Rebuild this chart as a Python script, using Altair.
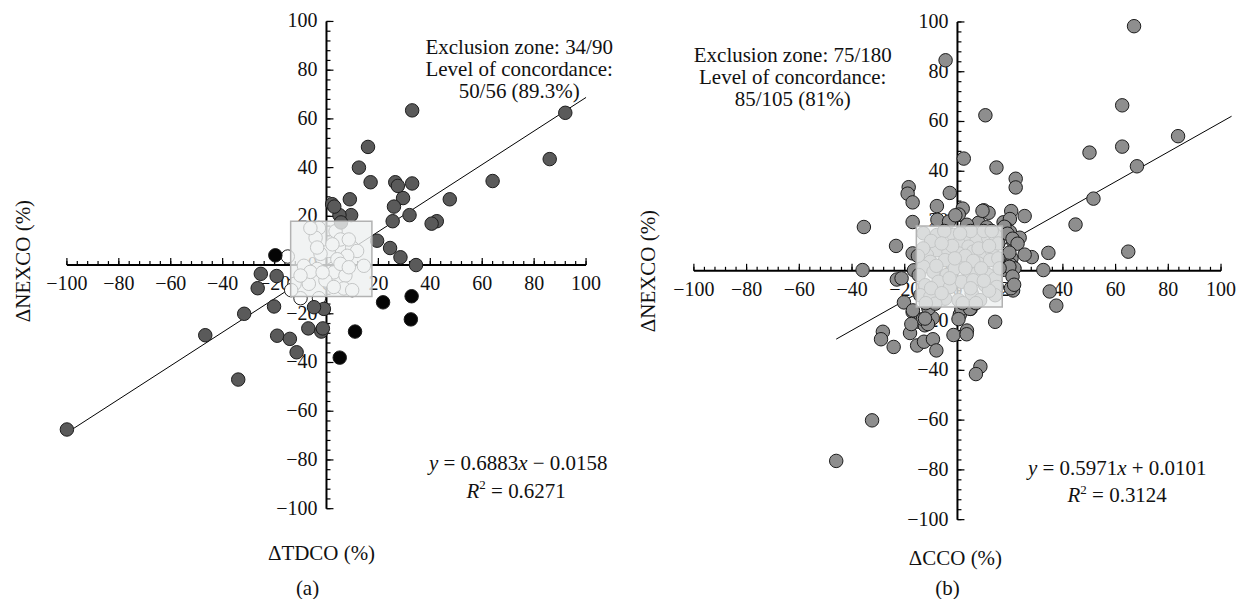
import altair as alt
import pandas as pd

FONT = "Liberation Serif"

AXIS_RANGE = [-100, 100]
MAJOR_TICKS = list(range(-100, 101, 20))
MINOR_TICKS = list(range(-100, 101, 4))

# ---------------- Panel (a): dTDCO vs dNEXCO ----------------
A_CONC_X = [92, 86, 64, 47.5, 42.5, 40.5, 33, 33, 29.5, 26.5, 27.5, 26, 25.5, 32, 16, 17, 12.5,
            9, 9.5, 5, 2.2, 3, 5.6, 19.5, 24.5, 28.5, 34.5,
            -100, -25.3, -26.5, -19.2, -20.2, -31.7, -46.7, -19, -14.1, -11.5, -7, -2, -1.4, -1, -4.8, -34]
A_CONC_Y = [62.5, 43.5, 34.5, 27, 18, 17, 63.5, 33.5, 27.5, 34, 32.5, 24, 18, 20.5, 48.5, 34, 40,
            27, 20.5, 20.5, 25, 24, 17.5, 10, 7, 3.2, 0,
            -67.5, -3.6, -9.5, -4.5, -17, -20, -28.8, -29, -30.3, -35.8, -26, -27.3, -26, -18, -17.3, -47]
A_DISC_X = [-19.7, 21.8, 11, 5.1, 32.8, 32.5]
A_DISC_Y = [4, -15.3, -27.3, -38, -12.8, -22.3]
A_EXCL_X = [-2.9, -4.2, 3.5, 5.4, 0.9, 9.9, 11.8, 8, 4.2, 14.4, -8.7, -3.6, 2.8, 7.3, -6.8, -0.4, 6.7,
            9.9, -10, -2.9, -14.9, -12.3, -2.3, -6.2, 5.4, 8.6, 2.3, 8.6, -10, -1.5, -13.6, 2.8, -3.6, -6.2]
A_EXCL_Y = [15.2, 11.2, 13.9, 10.5, 5.8, 7.2, 5.8, 3.8, 2.4, -0.3, -0.3, -1.6, -3, -4.3, -7.7, -6.3, -9.6,
            -10.3, -13.6, -13.6, 3.5, -7.7, 4.6, -2.8, 0.5, -0.9, 8.5, 10.5, -4.3, -3, -10.3, -9, 7.2, 15.2]
A_SLOPE, A_INTERCEPT = 0.6883, -0.0158
A_FIT_X = [-100, 100]
A_BOX_X = [-13.8, 17.5]
A_BOX_Y = [-12.9, 18]

# ---------------- Panel (b): dCCO vs dNEXCO ----------------
B_OUT_X = [67, -4.5, 62.5, 10.6, 83.7, 62.5, 50.1, 2.4, 14.8, 68.1, 22.1, 22.1, 51.6, -18.5, -18.9, -17,
           -2.9, -7.8, 2, 0.5, 10, 11.8, 20.4, 25.5, 44.8, -35.5, -17, -7.6, -3.2, 8, 17.5, 19.9, 18.6,
           19.9, 23.6, 21.2, -23.3, -17, 28.2, 34.5, 64.8, 20.5, 20.1, 21.6, -36, 32.6, -16.5, -23, -21.2,
           35, 37.5, 21.1, -20.3, -17, -14.5, -12.4, -10.8, -9.4, 14.3, 0.9, 1.5, 5, -28.3, -29, -24.2,
           -18, -15.3, -12.7, -9.3, -8, -1.5, 3.6, 3.5, 8.7, 7, -32.4, -46,
           -0.8, 9.5, 3.6, 11.1, 17.8, 19, 20.9, 22.8, 19.7, 25.5, 17.8, 19.7, 20.9, 20.3, 21.5, 0.4,
           4.8, -16.9, -13.1, -11.2, -11, -12.3, -17.5]
B_OUT_Y = [98.3, 84.6, 66.5, 62.5, 54.1, 49.9, 47.5, 45.1, 41.5, 42, 37, 33.5, 29, 33.6, 31, 27.5,
           31.3, 26, 25, 22.6, 24.3, 23.3, 24, 22, 18.6, 17.6, 19.6, 20.5, 19.8, 19.3, 19.5, 20.8, 17,
           15.7, 13.3, 11.7, 10, 7, 5.5, 7.2, 7.7, 5, 2.5, 1, 0.3, 0.3, 0.2, -3.5, -3,
           -8.3, -14, -7.9, -12.7, -16.6, -20.5, -21.9, -20.3, -19, -20.5, -17.6, -15.3, -15.3, -24.5, -27.5, -30.6,
           -25, -30, -28.5, -27.5, -32, -25.8, -24, -25.5, -38.5, -41.5, -60.1, -76.4,
           22.3, 24.1, 18.5, 17.5, 17.7, 14.9, 12.9, 10.9, 7.3, 6.5, 0.4, 1.6, -2.3, -7, -5.6, -19.4,
           -15.3, -15.9, -19.4, -21.4, -15.2, -19.2, -21.4]
B_IN_X = [-12.9, -7.8, -1.5, 2.9, 7.3, 11.7, 14.3, 0.4, 4.2, -7.8, -3.4, -11.6, 0.4, 6.0, 9.2, 13, 15.5,
          -4.7, -10.3, -12.9, 1.6, 7.9, 12.4, 15.5, -14.7, -9.1, -4.1, 4.2, 7.3, 11.7, 14.3, -12.2, -7.2,
          -2.8, 1.6, 6, 10.5, 14.9, -14.1, -10.3, -4.7, 0.4, 5.4, 8.6, 14.3, -8.4,
          -10, -5, 5, 10, -2, 3, 8, 12, -6, 1, 6, -8, -1, 3, 9, -3, 5, -10, 12, -6, 2, 7, -13, 16, -15,
          -1, 10, -12, 13]
B_IN_Y = [15.1, 14.4, 14.4, 13.7, 12.4, 13.1, 14.4, 11.0, 9.7, 8.3, 7.7, 6.3, 7.0, 7.7, 6.3, 8.3, 11,
          4.3, 3.6, 1.6, 3.6, 3.0, 4.3, 5, -1.7, -0.4, -1.7, -0.4, -1.1, -1.7, -3.1, -5.8, -4.4,
          -6.5, -4.4, -3.8, -5.8, -6.5, -9.8, -10.5, -11.2, -11.8, -9.1, -11.8, -9.8, -13.2,
          12, 16, 16, 16, 10, 6, 9, 10, 11, 15, 4, 2, 1, 1, 1, -3, -7, -7, -8, -9, -13, -13, 9, 1, 6,
          5, -4, -13, 16]
B_SLOPE, B_INTERCEPT = 0.5971, 0.0101
B_FIT_X = [-46, 104]
B_BOX_X = [-15.6, 17]
B_BOX_Y = [-14.5, 18]

# Times / Liberation Serif advance widths (em) for equation layout
W_REG = {" ": 0.25, "=": 0.564, "+": 0.564, "\u2212": 0.564, ".": 0.25}
W_ITA = {"y": 0.444, "x": 0.444, "R": 0.611}


def seg_width(t, style, size):
    if style == "i":
        return sum(W_ITA.get(c, 0.5) for c in t) * size
    if style == "sup":
        return 0.5 * len(t) * size * 0.62
    return sum(W_REG.get(c, 0.5) for c in t) * size


def lab(v):
    return str(v).replace("-", "\u2212")


def panel(W, H, y_dom, point_sets, slope, intercept, fit_x, box_x, box_y,
          annot, annot_pos, eq_lines, xtitle, xtitle_pos, ytitle, ytitle_pos,
          caption, caption_pos):
    xs = alt.Scale(domain=AXIS_RANGE, nice=False, zero=False)
    ys = alt.Scale(domain=y_dom, nice=False, zero=False)

    def X(f):
        return alt.X(f, type="quantitative", scale=xs, axis=None)

    def Y(f):
        return alt.Y(f, type="quantitative", scale=ys, axis=None)

    one = pd.DataFrame({"lo": [AXIS_RANGE[0]], "hi": [AXIS_RANGE[1]], "z": [0]})
    layers = []
    # axis lines through the origin
    layers.append(alt.Chart(one).mark_rule(color="black", strokeWidth=2).encode(
        x=X("lo"), x2="hi", y=Y("z")))
    layers.append(alt.Chart(one).mark_rule(color="black", strokeWidth=2).encode(
        y=Y("lo"), y2="hi", x=X("z")))
    # ticks
    minor = pd.DataFrame({"v": MINOR_TICKS, "z": 0})
    major = pd.DataFrame({"v": MAJOR_TICKS, "z": 0, "t": [lab(v) for v in MAJOR_TICKS]})
    for df, L in ((minor, 4), (major, 7)):
        layers.append(alt.Chart(df).mark_tick(orient="vertical", size=L, thickness=1.2,
                                              yOffset=-L / 2, color="black", opacity=1).encode(
            x=X("v"), y=Y("z")))
        layers.append(alt.Chart(df).mark_tick(orient="horizontal", size=L, thickness=1.2,
                                              xOffset=L / 2, color="black", opacity=1).encode(
            y=Y("v"), x=X("z")))
    # tick labels
    layers.append(alt.Chart(major).mark_text(font=FONT, fontSize=20, baseline="middle", dy=19,
                                             color="#111").encode(
        x=X("v"), y=Y("z"), text="t:N"))
    layers.append(alt.Chart(major).mark_text(font=FONT, fontSize=20, baseline="middle", align="right",
                                             dx=-9, color="#111").encode(
        y=Y("v"), x=X("z"), text="t:N"))
    # regression line
    fit = pd.DataFrame({"x": fit_x, "y": [slope * v + intercept for v in fit_x]})
    layers.append(alt.Chart(fit).mark_line(color="black", strokeWidth=1).encode(x=X("x"), y=Y("y")))
    # points
    for px, py, fill in point_sets:
        df = pd.DataFrame({"x": px, "y": py})
        layers.append(alt.Chart(df).mark_circle(size=182, fill=fill, stroke="#1c1c1c", strokeWidth=1,
                                                opacity=1, fillOpacity=1).encode(x=X("x"), y=Y("y")))
    # exclusion zone
    bx = pd.DataFrame({"x1": [box_x[0]], "x2": [box_x[1]], "y1": [box_y[0]], "y2": [box_y[1]]})
    layers.append(alt.Chart(bx).mark_rect(fill="#eef0f0", fillOpacity=0.8, stroke="#b2b2b2",
                                          strokeWidth=1.5).encode(x=X("x1"), x2="x2", y=Y("y1"), y2="y2"))

    # text
    def txt(t, pos, size=21, angle=None, lh=22):
        kw = dict(font=FONT, fontSize=size, align="center", baseline="middle", color="#111",
                  lineHeight=lh)
        if angle is not None:
            kw["angle"] = angle
        return alt.Chart(one).mark_text(**kw).encode(
            x=alt.value(pos[0]), y=alt.value(pos[1]), text=alt.value(t))

    layers.append(txt(annot, annot_pos))
    layers.append(txt(xtitle, xtitle_pos))
    layers.append(txt(ytitle, ytitle_pos, angle=270))
    layers.append(txt(caption, caption_pos))

    # equations: segments with italic variables and superscript
    size = 21
    for segs, cx, base in eq_lines:
        total = sum(seg_width(t, s, size) for t, s in segs)
        x0 = cx - total / 2
        for t, s in segs:
            lead = len(t) - len(t.lstrip(" "))
            xpos = x0 + lead * W_REG[" "] * size
            kw = dict(font=FONT, fontSize=size, align="left", baseline="alphabetic", color="#111")
            if s == "i":
                kw["fontStyle"] = "italic"
            if s == "sup":
                kw["fontSize"] = size * 0.62
                kw["dy"] = -size * 0.4
            layers.append(alt.Chart(one).mark_text(**kw).encode(
                x=alt.value(xpos), y=alt.value(base), text=alt.value(t.strip(" "))))
            x0 += seg_width(t, s, size)
    return alt.layer(*layers).properties(width=W, height=H)


pa = panel(520, 488, AXIS_RANGE,
           [(A_EXCL_X, A_EXCL_Y, "white"), (A_CONC_X, A_CONC_Y, "#5a5a5a"), (A_DISC_X, A_DISC_Y, "#050505")],
           A_SLOPE, A_INTERCEPT, A_FIT_X, A_BOX_X, A_BOX_Y,
           ["Exclusion zone: 34/90", "Level of concordance:", "50/56 (89.3%)"], (453, 27),
           [([("y", "i"), (" = 0.6883", "r"), ("x", "i"), (" \u2212 0.0158", "r")], 452, 449.5),
            ([("R", "i"), ("2", "sup"), (" = 0.6271", "r")], 450, 477)],
           "\u0394TDCO (%)", (255, 533), "\u0394NEXCO (%)", (-43, 240), "(a)", (241, 568))

pb = panel(528, 499, [-100, 100.2],
           [(B_OUT_X + B_IN_X, B_OUT_Y + B_IN_Y, "#8e8e8e")],
           B_SLOPE, B_INTERCEPT, B_FIT_X, B_BOX_X, B_BOX_Y,
           ["Exclusion zone: 75/180", "Level of concordance:", "85/105 (81%)"], (99, 34.5),
           [([("y", "i"), (" = 0.5971", "r"), ("x", "i"), (" + 0.0101", "r")], 424, 454),
            ([("R", "i"), ("2", "sup"), (" = 0.3124", "r")], 424, 481.7)],
           "\u0394CCO (%)", (262, 538), "\u0394NEXCO (%)", (-45, 250), "(b)", (254, 568))

chart = alt.hconcat(pa, pb, spacing=25).properties(
    padding={"left": 5, "top": 3, "right": 0, "bottom": 0}
).configure_view(stroke=None)

chart.save("out.html", embed_options={"renderer": "svg", "actions": False})
